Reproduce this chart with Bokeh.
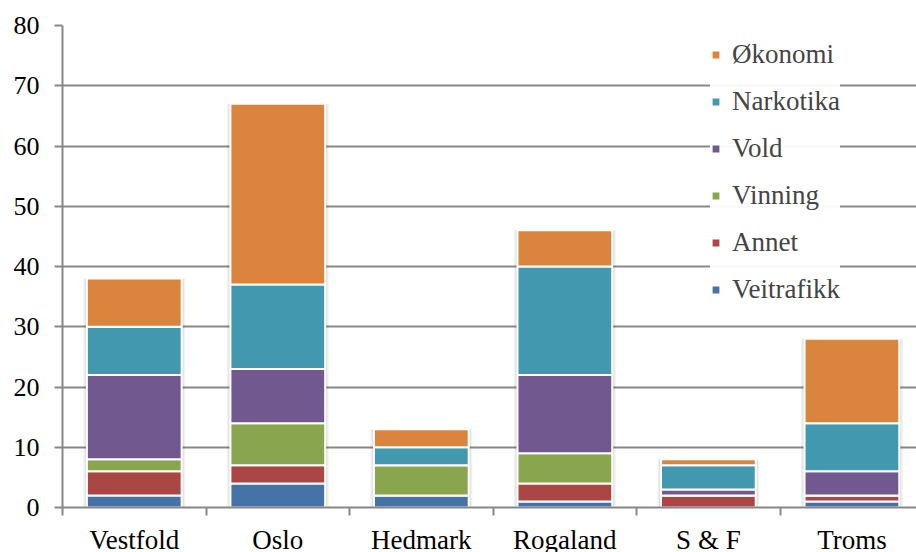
from bokeh.plotting import figure
from bokeh.models import FixedTicker, Legend, LegendItem, ColumnDataSource, Range1d
from bokeh.embed import file_html
from bokeh.resources import INLINE

categories = ["Vestfold", "Oslo", "Hedmark", "Rogaland", "S & F", "Troms"]
series_names = ["Veitrafikk", "Annet", "Vinning", "Vold", "Narkotika", "Økonomi"]
veitrafikk = [2, 4, 2, 1, 0, 1]
annet = [4, 3, 0, 3, 2, 1]
vinning = [2, 7, 5, 5, 0, 0]
vold = [14, 9, 0, 13, 1, 4]
narkotika = [8, 14, 3, 18, 4, 8]
okonomi = [8, 30, 3, 6, 1, 14]
y_ticks = [0, 10, 20, 30, 40, 50, 60, 70, 80]

colors = ["#4572A7", "#AA4643", "#89A54E", "#71588F", "#4198AF", "#DB843D"]
FONT = "Times New Roman"
LEGEND_FONT = "Times New Roman, serif"
GRAY = "#878787"

x = [i + 0.5 for i in range(len(categories))]
all_series = [veitrafikk, annet, vinning, vold, narkotika, okonomi]
data = {"x": x}
for name, vals in zip(series_names, all_series):
    data[name] = vals
data["total"] = [sum(v) for v in zip(*all_series)]
source = ColumnDataSource(data)

p = figure(frame_width=854, frame_height=482, output_backend="svg", toolbar_location=None,
           x_range=Range1d(0, 5.95), y_range=Range1d(0, 80),
           min_border_left=62, min_border_right=0, min_border_top=25, min_border_bottom=45)
p.outline_line_color = None

# soft shadow behind the stacks
for w, a in [(0.71, 0.05), (0.69, 0.07)]:
    p.vbar(x="x", top="total", bottom=0, width=w, source=source,
           fill_color="black", fill_alpha=a, line_color=None)

renderers = p.vbar_stack(series_names, x="x", width=0.66, source=source,
                         fill_color=colors, line_color="white", line_width=2)

# axes
p.xaxis.ticker = FixedTicker(ticks=x, minor_ticks=list(range(len(categories) + 1)))
p.xaxis.major_label_overrides = {xi: c for xi, c in zip(x, categories)}
p.xaxis.major_tick_out = 0
p.xaxis.major_tick_in = 0
p.xaxis.minor_tick_out = 8
p.xaxis.minor_tick_in = 0
p.xaxis.minor_tick_line_color = GRAY
p.xaxis.minor_tick_line_width = 2
p.xaxis.axis_line_color = GRAY
p.xaxis.axis_line_width = 2
p.xaxis.major_label_text_font = FONT
p.xaxis.major_label_text_font_size = "27px"
p.xaxis.major_label_text_color = "black"
p.xaxis.major_label_standoff = 9

p.yaxis.ticker = FixedTicker(ticks=y_ticks)
p.yaxis.major_tick_out = 8
p.yaxis.major_tick_in = 0
p.yaxis.minor_tick_line_color = None
p.yaxis.major_tick_line_color = GRAY
p.yaxis.major_tick_line_width = 2
p.yaxis.axis_line_color = GRAY
p.yaxis.axis_line_width = 2
p.yaxis.major_label_text_font = FONT
p.yaxis.major_label_text_font_size = "26px"
p.yaxis.major_label_text_color = "black"
p.yaxis.major_label_standoff = 15

p.xgrid.grid_line_color = None
p.ygrid.ticker = FixedTicker(ticks=y_ticks)
p.ygrid.grid_line_color = GRAY
p.ygrid.grid_line_width = 2

items = [LegendItem(label=n, renderers=[r]) for n, r in zip(series_names, renderers)][::-1]
legend = Legend(items=items, location=(648, 202), label_text_font=LEGEND_FONT,
                label_text_font_size="27px")
legend.border_line_color = None
legend.background_fill_color = "white"
legend.glyph_width = 11
legend.glyph_height = 11
legend.label_standoff = 11
legend.spacing = 16
legend.padding = 10
legend.margin = 0
p.add_layout(legend, "center")

open("out.html", "w").write(file_html(p, INLINE))
